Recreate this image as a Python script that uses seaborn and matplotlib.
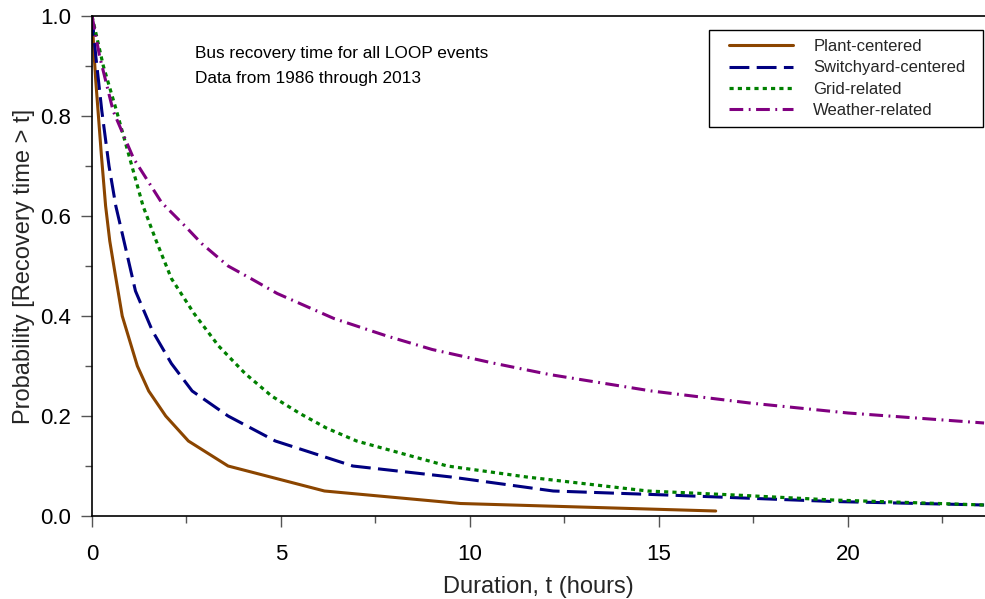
import matplotlib
matplotlib.use("Agg")
import matplotlib.pyplot as plt
import seaborn as sns
import pandas as pd
from matplotlib.ticker import MultipleLocator, FormatStrFormatter
from matplotlib.patches import Rectangle

# ---- data ----
plant_t = [0, 0.05, 0.1, 0.17, 0.25, 0.36, 0.47, 0.6, 0.8, 1.0, 1.2, 1.5, 1.95, 2.55, 3.6, 6.15, 9.75, 16.5]
plant_p = [1.0, 0.93, 0.87, 0.80, 0.72, 0.62, 0.55, 0.49, 0.40, 0.35, 0.30, 0.25, 0.20, 0.15, 0.10, 0.05, 0.025, 0.01]

switch_t = [0, 0.1, 0.26, 0.45, 0.63, 0.8, 1.15, 1.6, 2.1, 2.65, 3.6, 4.85, 6.9, 9.5, 12.2, 15.2, 19.6, 23.6]
switch_p = [1.0, 0.92, 0.81, 0.70, 0.62, 0.565, 0.45, 0.37, 0.305, 0.25, 0.20, 0.15, 0.10, 0.078, 0.05, 0.042, 0.029, 0.022]

grid_t = [0, 0.3, 0.65, 1.0, 1.35, 1.7, 2.1, 2.7, 3.35, 4.05, 4.75, 5.5, 6.2, 7.0, 9.4, 11.5, 14.7, 17.0, 19.6, 23.6]
grid_p = [1.0, 0.90, 0.81, 0.715, 0.62, 0.55, 0.475, 0.405, 0.34, 0.285, 0.24, 0.205, 0.176, 0.15, 0.10, 0.078, 0.05, 0.042, 0.032, 0.022]

weather_t = [0, 0.2, 0.56, 1.1, 1.84, 2.46, 2.9, 3.6, 4.2, 4.9, 6.4, 7.8, 9.0, 10.6, 12.1, 14.8, 17.4, 20.0, 23.6]
weather_p = [1.0, 0.92, 0.81, 0.715, 0.627, 0.58, 0.545, 0.50, 0.475, 0.445, 0.395, 0.36, 0.333, 0.306, 0.283, 0.25, 0.226, 0.206, 0.186]

labels = ["Plant-centered", "Switchyard-centered", "Grid-related", "Weather-related"]
colors = ["#8B4500", "#000080", "#008000", "#800080"]

x_label = "Duration, t (hours)"
y_label = "Probability [Recovery time > t]"
note_lines = ["Bus recovery time for all LOOP events", "Data from 1986 through 2013"]

# ---- style ----
sns.set_theme(style="ticks")
plt.rcParams["font.family"] = ["Liberation Sans", "DejaVu Sans"]

W, H = 985, 599
fig = plt.figure(figsize=(W / 100, H / 100), dpi=100)
x0, y0, x1, y1 = 92, 516, 985, 16  # axes pixel box (left, bottom, right, top)
ax = fig.add_axes([x0 / W, 1 - y0 / H, (x1 - x0) / W, (y0 - y1) / H])


def ax_x(px):
    return (px - x0) / (x1 - x0)


def ax_y(py):
    return (y0 - py) / (y0 - y1)


series = [(plant_t, plant_p), (switch_t, switch_p), (grid_t, grid_p), (weather_t, weather_p)]
styles = ["-", (0, (6.5, 2.4)), (0, (1.3, 1.3)), (0, (4.5, 1.8, 0.6, 1.8))]
lws = [2.2, 2.2, 2.3, 2.2]

for (t, p), lab, col, ls, lw in zip(series, labels, colors, styles, lws):
    df = pd.DataFrame({"t": t, "p": p})
    sns.lineplot(data=df, x="t", y="p", ax=ax, color=col, linestyle=ls,
                 linewidth=lw, label=lab, estimator=None, sort=False)

ax.set_xlim(0, (x1 - x0) / 37.8)
ax.set_ylim(0, 1.0)
ax.xaxis.set_major_locator(MultipleLocator(5))
ax.xaxis.set_minor_locator(MultipleLocator(2.5))
ax.yaxis.set_major_locator(MultipleLocator(0.2))
ax.yaxis.set_minor_locator(MultipleLocator(0.1))
ax.yaxis.set_major_formatter(FormatStrFormatter("%.1f"))

ax.tick_params(axis="both", which="major", direction="out", length=8, width=1,
               color="#555555", labelsize=16, labelcolor="black")
ax.tick_params(axis="x", which="major", pad=12)
ax.tick_params(axis="y", which="major", pad=7)
ax.tick_params(axis="both", which="minor", direction="out", length=5, width=1,
               color="#555555")

for side in ["left", "bottom", "top"]:
    ax.spines[side].set_visible(True)
    ax.spines[side].set_color("black")
    ax.spines[side].set_linewidth(1.2)
ax.spines["right"].set_visible(False)

ax.set_xlabel(x_label, fontsize=17, labelpad=8)
ax.set_ylabel(y_label, fontsize=17, labelpad=4)

for line, by in zip(note_lines, [58, 83]):
    ax.text(ax_x(195), ax_y(by), line, transform=ax.transAxes,
            ha="left", va="baseline", fontsize=12.4, color="black")

# legend box drawn as a frame, legend entries placed inside it
box = Rectangle((ax_x(709), ax_y(127)), ax_x(983) - ax_x(709), ax_y(30) - ax_y(127),
                transform=ax.transAxes, facecolor="white", edgecolor="black",
                linewidth=1.0, zorder=4)
ax.add_patch(box)
leg = ax.legend(loc="center left", bbox_to_anchor=(ax_x(729), ax_y(78.5)),
                fontsize=12, frameon=False,
                handlelength=3.85, handletextpad=1.2, labelspacing=0.38,
                borderpad=0, borderaxespad=0)
leg.set_zorder(5)

fig.savefig("out.png", dpi=100)
